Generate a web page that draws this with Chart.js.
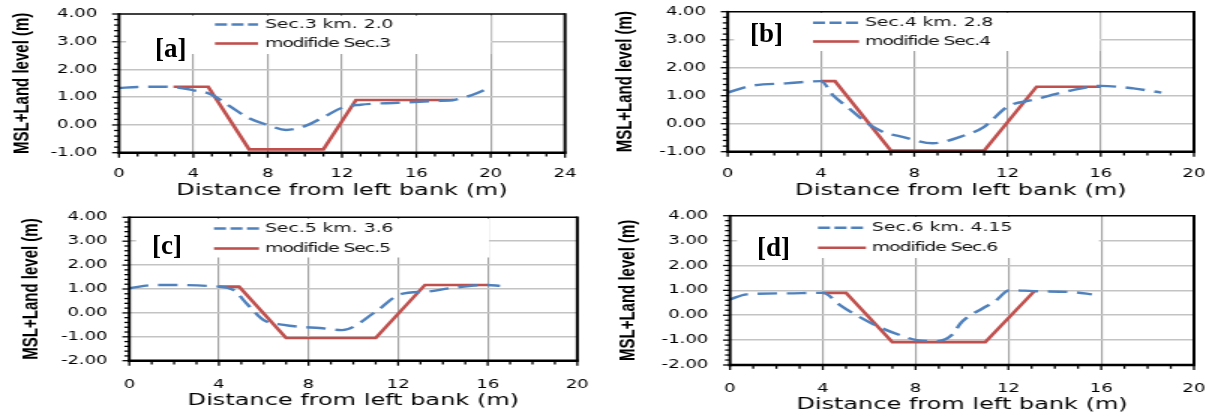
<!DOCTYPE html>
<html>
<head>
<meta charset="utf-8">
<script src="https://cdn.jsdelivr.net/npm/chart.js"></script>
<style>
html,body{margin:0;padding:0;background:#fff;}
body{width:1213px;height:419px;overflow:hidden;position:relative;}
.panel{position:absolute;transform-origin:0 0;transform:scaleX(1.5);}
.panel canvas{display:block;}
.lab{position:absolute;font-family:"Liberation Serif","Times New Roman",serif;font-weight:bold;font-size:27px;line-height:27px;color:#000;white-space:nowrap;}
</style>
</head>
<body>
<div class="panel" style="left:0px;top:0px;"><canvas id="ca" width="400" height="205" style="width:400px;height:205px;"></canvas></div>
<div class="panel" style="left:600px;top:0px;"><canvas id="cb" width="409" height="205" style="width:409px;height:205px;"></canvas></div>
<div class="panel" style="left:0px;top:205px;"><canvas id="cc" width="400" height="214" style="width:400px;height:214px;"></canvas></div>
<div class="panel" style="left:600px;top:205px;"><canvas id="cd" width="409" height="214" style="width:409px;height:214px;"></canvas></div>
<div class="lab" style="left:155px;top:35px;">[a]</div>
<div class="lab" style="left:750px;top:20px;">[b]</div>
<div class="lab" style="left:152px;top:232px;">[c]</div>
<div class="lab" style="left:757px;top:234px;">[d]</div>
<script>
// ---------------- data ----------------
const xTicksA = [0, 4, 8, 12, 16, 20, 24];
const xTicksBCD = [0, 4, 8, 12, 16, 20];
const yTicksAB = [-1, 0, 1, 2, 3, 4];
const yTicksCD = [-2, -1, 0, 1, 2, 3, 4];
const yTickLabelsAB = ['-1.00', '0.00', '1.00', '2.00', '3.00', '4.00'];
const yTickLabelsCD = ['-2.00', '-1.00', '0.00', '1.00', '2.00', '3.00', '4.00'];
const xTitle = 'Distance from left bank (m)';
const yTitle = 'MSL+Land level (m)';

const legendA = ['Sec.3 km. 2.0', 'modifide Sec.3'];
const legendB = ['Sec.4 km. 2.8', 'modifide Sec.4'];
const legendC = ['Sec.5 km. 3.6', 'modifide Sec.5'];
const legendD = ['Sec.6 km. 4.15', 'modifide Sec.6'];

const secA_x = [0, 1, 2, 3, 4, 4.9, 6, 7, 8, 9, 10, 11, 12, 13, 15, 17, 18, 19, 20];
const secA_y = [1.33, 1.37, 1.38, 1.36, 1.25, 1.12, 0.66, 0.24, 0.0, -0.18, -0.04, 0.28, 0.62, 0.73, 0.8, 0.86, 0.9, 1.08, 1.36];
const modA_x = [2.93, 4.8, 7, 11, 12.75, 18];
const modA_y = [1.38, 1.38, -0.88, -0.88, 0.9, 0.9];

const secB_x = [0, 1, 2.5, 4, 4.5, 5.2, 6, 6.8, 7.4, 8.8, 10, 11, 12, 13.1, 14.8, 16, 17.4, 18.6];
const secB_y = [1.11, 1.35, 1.44, 1.52, 1.03, 0.55, 0.01, -0.34, -0.45, -0.7, -0.46, -0.11, 0.61, 0.85, 1.2, 1.35, 1.26, 1.11];
const modB_x = [4, 4.6, 7, 11, 13.25, 16];
const modB_y = [1.52, 1.52, -0.96, -0.96, 1.32, 1.32];

const secC_x = [0, 1.15, 4, 4.64, 5.3, 6, 6.9, 7.6, 8.5, 9.5, 11, 12.1, 13.3, 14.3, 16, 16.55];
const secC_y = [1.03, 1.17, 1.1, 0.96, 0.33, -0.3, -0.5, -0.58, -0.63, -0.72, 0.05, 0.78, 0.89, 1.03, 1.17, 1.13];
const modC_x = [4, 4.9, 7, 11, 13.2, 16];
const modC_y = [1.1, 1.1, -1.05, -1.05, 1.17, 1.17];

const secD_x = [0, 0.72, 2.44, 4, 4.74, 5.3, 6.4, 7.33, 8.05, 8.9, 9.55, 10, 10.9, 11.4, 12.07, 13.07, 14.9, 15.6];
const secD_y = [0.64, 0.84, 0.88, 0.9, 0.41, 0.08, -0.46, -0.8, -1.0, -1.04, -0.8, -0.26, 0.28, 0.54, 1.01, 0.97, 0.92, 0.84];
const modD_x = [4, 5, 7, 11, 13.15];
const modD_y = [0.9, 0.9, -1.08, -1.08, 1.0];

// ---------------- layout (page pixel coordinates) ----------------
const S = 1.5;
const BLUE = '#4f81bd', RED = '#c0504d';

const panels = [
  { id: 'ca', pl: 0, pt: 0, pw: 400, ph: 205,
    area: { l: 119, r: 565, t: 14, b: 152.7 }, xmax: 24, ymin: -1,
    xTicks: xTicksA, yTicks: yTicksAB, yLabels: yTickLabelsAB,
    sx: secA_x, sy: secA_y, mx: modA_x, my: modA_y, legend: legendA,
    box: [126, 16, 491, 54], samp: [215, 258], ly: [24.5, 43.5], tx: 265,
    xTickPad: 14, xTitleOff: 14.2, yTitleX: 22.5 },
  { id: 'cb', pl: 600, pt: 0, pw: 409, ph: 205,
    area: { l: 727.7, r: 1194, t: 11.7, b: 151.7 }, xmax: 20, ymin: -1,
    xTicks: xTicksBCD, yTicks: yTicksAB, yLabels: yTickLabelsAB,
    sx: secB_x, sy: secB_y, mx: modB_x, my: modB_y, legend: legendB,
    box: [734, 13, 1100, 51], samp: [813, 859], ly: [22.7, 41.5], tx: 865,
    xTickPad: 15, xTitleOff: 14, yTitleX: 25 },
  { id: 'cc', pl: 0, pt: 205, pw: 400, ph: 214,
    area: { l: 129.3, r: 577.3, t: 217.3, b: 360.7 }, xmax: 20, ymin: -2,
    xTicks: xTicksBCD, yTicks: yTicksCD, yLabels: yTickLabelsCD,
    sx: secC_x, sy: secC_y, mx: modC_x, my: modC_y, legend: legendC,
    box: [136, 219, 489, 257.5], samp: [214, 259], ly: [228.5, 248.5], tx: 265,
    xTickPad: 17, xTitleOff: 18, yTitleX: 32 },
  { id: 'cd', pl: 600, pt: 205, pw: 409, ph: 214,
    area: { l: 730, r: 1194, t: 215.7, b: 365 }, xmax: 20, ymin: -2,
    xTicks: xTicksBCD, yTicks: yTicksCD, yLabels: yTickLabelsCD,
    sx: secD_x, sy: secD_y, mx: modD_x, my: modD_y, legend: legendD,
    box: [737, 217, 1099, 258], samp: [818, 866], ly: [227.7, 247.7], tx: 872,
    xTickPad: 16.8, xTitleOff: 14, yTitleX: 29 }
];

function toPts(xs, ys) { return xs.map((x, i) => ({ x: x, y: ys[i] })); }

function makeDeco(p) {
  const cx = X => (X - p.pl) / S;
  const cy = Y => Y - p.pt;
  return {
    id: 'deco',
    beforeDatasetsDraw(chart) {
      const c = chart.ctx;
      c.save();
      c.fillStyle = '#ffffff';
      c.fillRect(cx(p.box[0]), cy(p.box[1]), (p.box[2] - p.box[0]) / S, p.box[3] - p.box[1]);
      c.restore();
    },
    afterDatasetsDraw(chart) {
      const c = chart.ctx, a = chart.chartArea, xs = chart.scales.x, ys = chart.scales.y;
      c.save();
      c.strokeStyle = '#000';
      c.setLineDash([]);
      // top and right frame
      c.lineWidth = 1.6;
      c.beginPath(); c.moveTo(a.left, a.top); c.lineTo(a.right, a.top); c.stroke();
      c.lineWidth = 2;
      c.beginPath(); c.moveTo(a.right, a.top - 0.8); c.lineTo(a.right, a.bottom); c.stroke();
      // tick marks
      c.lineWidth = 1.3;
      const ny = Math.round((ys.max - ys.min) * 5);
      for (let i = 0; i <= ny; i++) {
        const yy = ys.getPixelForValue(ys.min + i * 0.2);
        const len = (i % 5 === 0) ? 4.6 : 3.3;
        c.beginPath(); c.moveTo(a.left, yy); c.lineTo(a.left - len, yy); c.stroke();
      }
      const nx = Math.round(xs.max - xs.min);
      for (let i = 0; i <= nx; i++) {
        const xx = xs.getPixelForValue(xs.min + i);
        const len = (i % 4 === 0) ? 5 : 3.8;
        c.beginPath(); c.moveTo(xx, a.bottom); c.lineTo(xx, a.bottom + len); c.stroke();
      }
      // axes
      c.lineWidth = 2;
      c.beginPath(); c.moveTo(a.left, a.top - 0.8); c.lineTo(a.left, a.bottom + 1.3); c.stroke();
      c.lineWidth = 2.6;
      c.beginPath(); c.moveTo(a.left - 1, a.bottom); c.lineTo(a.right + 1, a.bottom); c.stroke();
      // legend
      const x0 = cx(p.samp[0]), x1 = cx(p.samp[1]);
      c.lineWidth = 2.4; c.strokeStyle = BLUE; c.setLineDash([8, 3]);
      c.beginPath(); c.moveTo(x0, cy(p.ly[0])); c.lineTo(x1, cy(p.ly[0])); c.stroke();
      c.setLineDash([]); c.lineWidth = 2.6; c.strokeStyle = RED;
      c.beginPath(); c.moveTo(x0, cy(p.ly[1])); c.lineTo(x1, cy(p.ly[1])); c.stroke();
      c.fillStyle = '#111';
      c.font = '12.5px "DejaVu Sans"';
      c.textAlign = 'left'; c.textBaseline = 'middle';
      c.fillText(p.legend[0], cx(p.tx), cy(p.ly[0]));
      try { c.letterSpacing = '-0.7px'; } catch (e) {}
      c.fillText(p.legend[1], cx(p.tx), cy(p.ly[1]));
      try { c.letterSpacing = '0px'; } catch (e) {}
      c.restore();
    }
  };
}

function build(p) {
  const cx = X => (X - p.pl) / S;
  const cy = Y => Y - p.pt;
  const yAxisW = cx(p.area.l);
  const xAxisH = p.ph - cy(p.area.b);
  const padTop = cy(p.area.t);
  const padRight = p.pw - cx(p.area.r);
  const yTitleOff = cx(p.pl + p.yTitleX);
  new Chart(document.getElementById(p.id), {
    type: 'scatter',
    data: {
      datasets: [
        { label: p.legend[0], data: toPts(p.sx, p.sy), showLine: true, borderColor: BLUE,
          backgroundColor: BLUE, borderWidth: 2.4, borderDash: [13, 6.5], pointRadius: 0,
          cubicInterpolationMode: 'monotone', fill: false },
        { label: p.legend[1], data: toPts(p.mx, p.my), showLine: true, borderColor: RED,
          backgroundColor: RED, borderWidth: 2.6, pointRadius: 0, tension: 0, fill: false,
          borderJoinStyle: 'miter' }
      ]
    },
    options: {
      responsive: false, animation: false, devicePixelRatio: 1,
      layout: { padding: { top: padTop, right: padRight, bottom: 0, left: 0 } },
      plugins: { legend: { display: false }, tooltip: { enabled: false } },
      scales: {
        x: {
          type: 'linear', position: 'bottom', min: 0, max: p.xmax,
          afterBuildTicks: s => { s.ticks = p.xTicks.map(v => ({ value: v })); },
          afterFit: s => { s.height = xAxisH; },
          ticks: { autoSkip: false, maxRotation: 0, padding: 0, color: '#000',
                   font: { family: 'DejaVu Sans', size: 12 },
                   callback: (v, i) => String(p.xTicks[i]) },
          grid: { drawTicks: true, tickLength: p.xTickPad, tickColor: 'rgba(0,0,0,0)', lineWidth: 1.15,
                  color: ctx => (ctx.tick && (ctx.tick.value === 0 || ctx.tick.value === p.xmax)) ? 'rgba(0,0,0,0)' : '#a3a3a3' },
          border: { display: false },
          title: { display: true, text: xTitle, color: '#000',
                   font: { family: 'DejaVu Sans', size: 16 },
                   padding: { top: 0, bottom: p.xTitleOff - 9.6 } }
        },
        y: {
          type: 'linear', position: 'left', min: p.ymin, max: 4,
          afterBuildTicks: s => { s.ticks = p.yTicks.map(v => ({ value: v })); },
          afterFit: s => { s.width = yAxisW; },
          ticks: { autoSkip: false, padding: 0, color: '#000',
                   font: { family: 'DejaVu Sans', size: 12 },
                   callback: (v, i) => p.yLabels[i] },
          grid: { drawTicks: true, tickLength: 14.5, tickColor: 'rgba(0,0,0,0)', lineWidth: 1.5,
                  color: ctx => (ctx.tick && (ctx.tick.value === p.ymin || ctx.tick.value === 4)) ? 'rgba(0,0,0,0)' : '#c3c3c3' },
          border: { display: false },
          title: { display: true, text: yTitle, color: '#000',
                   font: { family: 'Liberation Sans', size: 15, weight: 'bold' },
                   padding: { top: yTitleOff - 9, bottom: 0 } }
        }
      }
    },
    plugins: [makeDeco(p)]
  });
}

panels.forEach(build);
</script>
</body>
</html>
